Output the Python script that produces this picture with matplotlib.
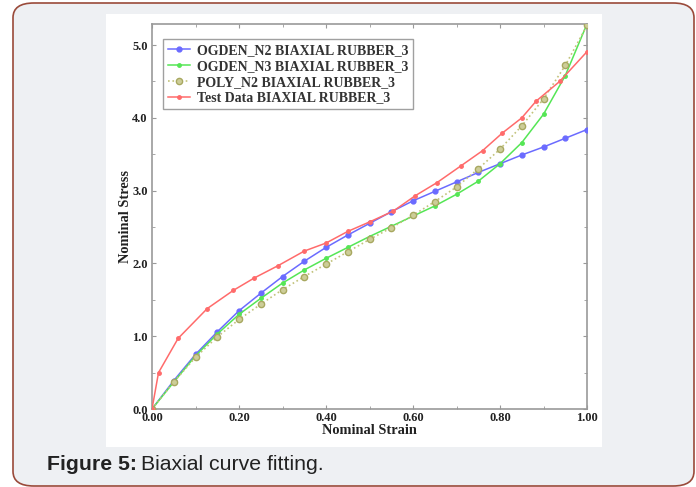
import numpy as np
import matplotlib
matplotlib.use('Agg')
import matplotlib.pyplot as plt
from matplotlib.patches import FancyBboxPatch, Rectangle
from matplotlib.ticker import MultipleLocator, FormatStrFormatter

# --- Data ---
strain = [0.00, 0.05, 0.10, 0.15, 0.20, 0.25, 0.30, 0.35, 0.40, 0.45, 0.50,
          0.55, 0.60, 0.65, 0.70, 0.75, 0.80, 0.85, 0.90, 0.95, 1.00]

ogden_n2 = [0.00, 0.39, 0.75, 1.06, 1.35, 1.59, 1.82, 2.03, 2.22, 2.39, 2.55,
            2.71, 2.86, 2.99, 3.12, 3.25, 3.37, 3.49, 3.60, 3.72, 3.84]

ogden_n3 = [0.00, 0.37, 0.73, 1.03, 1.30, 1.52, 1.73, 1.91, 2.07, 2.22, 2.37,
            2.51, 2.65, 2.79, 2.95, 3.13, 3.37, 3.66, 4.05, 4.58, 5.29]

poly_n2 = [0.00, 0.37, 0.71, 0.99, 1.23, 1.44, 1.64, 1.82, 1.99, 2.16, 2.33,
           2.49, 2.66, 2.85, 3.05, 3.30, 3.57, 3.89, 4.26, 4.72, 5.27]

test_strain = [0.000, 0.015, 0.060, 0.127, 0.187, 0.235, 0.290, 0.350, 0.400,
               0.450, 0.500, 0.555, 0.605, 0.655, 0.710, 0.760, 0.805, 0.850,
               0.883, 0.937, 1.000]
test_stress = [0.00, 0.50, 0.97, 1.38, 1.63, 1.80, 1.97, 2.17, 2.28,
               2.44, 2.57, 2.72, 2.93, 3.11, 3.34, 3.55, 3.79, 4.00,
               4.23, 4.50, 4.91]

labels = ['OGDEN_N2 BIAXIAL RUBBER_3', 'OGDEN_N3 BIAXIAL RUBBER_3',
          'POLY_N2 BIAXIAL RUBBER_3', 'Test Data BIAXIAL RUBBER_3']

W, H = 696, 487
fig = plt.figure(figsize=(W / 100, H / 100), dpi=100)
fig.patch.set_facecolor('white')

# outer rounded card
card = FancyBboxPatch((13 / W, 1 - 486 / H), (694 - 13) / W, (486 - 3) / H,
                      boxstyle='round,pad=0,rounding_size=0.03',
                      transform=fig.transFigure, facecolor='#eef0f3',
                      edgecolor='#9a4a3a', linewidth=1.2, zorder=0)
fig.patches.append(card)
# white panel behind the chart
panel = Rectangle((106 / W, 1 - 447 / H), (602 - 106) / W, (447 - 14) / H,
                  transform=fig.transFigure, facecolor='white',
                  edgecolor='none', zorder=1)
fig.patches.append(panel)

ax = fig.add_axes([152 / W, 1 - 409 / H, (587 - 152) / W, (409 - 24) / H])
ax.set_zorder(3)
ax.set_facecolor('white')

serif = 'Liberation Serif'

ax.plot(strain, ogden_n2, color='#6b6bff', lw=1.1, marker='o', ms=3.5,
        mfc='#6b6bff', mec='#6b6bff', label=labels[0], zorder=3)
ax.plot(strain, ogden_n3, color='#55e655', lw=1.1, marker='o', ms=2.5,
        mfc='#55e655', mec='#55e655', label=labels[1], zorder=3)
ax.plot(strain, poly_n2, color='#c2c27a', lw=1.2, ls=':', marker='o', ms=4.5,
        mfc='#cdcd98', mec='#a8a860', label=labels[2], zorder=3)
ax.plot(test_strain, test_stress, color='#ff6b6b', lw=1.1, marker='o', ms=2.5,
        mfc='#ff6b6b', mec='#ff6b6b', label=labels[3], zorder=4)

ax.set_xlim(0, 1.0)
ax.set_ylim(0, 5.29)
ax.xaxis.set_major_locator(MultipleLocator(0.2))
ax.xaxis.set_minor_locator(MultipleLocator(0.1))
ax.yaxis.set_major_locator(MultipleLocator(1.0))
ax.yaxis.set_minor_locator(MultipleLocator(0.5))
ax.xaxis.set_major_formatter(FormatStrFormatter('%.2f'))
ax.yaxis.set_major_formatter(FormatStrFormatter('%.1f'))
ax.tick_params(which='both', direction='in', top=True, right=True,
               color='#999999', labelsize=9, labelcolor='#222222')
ax.tick_params(axis='x', pad=2)
ax.tick_params(axis='y', pad=3)
ax.tick_params(which='major', length=3)
ax.tick_params(which='minor', length=2)
for lab in ax.get_xticklabels() + ax.get_yticklabels():
    lab.set_fontfamily(serif)
    lab.set_fontweight('bold')
for sp in ax.spines.values():
    sp.set_color('#999999')
    sp.set_linewidth(1.2)

ax.set_xlabel('Nominal Strain', fontfamily=serif, fontweight='bold',
              fontsize=10.4, labelpad=0, color='#222222')
ax.set_ylabel('Nominal Stress', fontfamily=serif, fontweight='bold',
              fontsize=10.4, labelpad=0, color='#222222')

leg = ax.legend(loc='upper left', bbox_to_anchor=(0.025, 0.96),
                borderaxespad=0,
                prop={'family': serif, 'weight': 'bold', 'size': 10},
                frameon=True, fancybox=False, handlelength=1.6,
                borderpad=0.35, labelspacing=0.2, handletextpad=0.5)
leg.get_frame().set_edgecolor('#888888')
leg.get_frame().set_linewidth(1.0)
for t in leg.get_texts():
    t.set_color('#333333')

# caption
cap1 = fig.text(47 / W, 1 - 470 / H, 'Figure 5:', fontfamily='Liberation Sans',
                fontweight='bold', fontsize=15.3, color='#222222', zorder=5)
fig.canvas.draw()
bb = cap1.get_window_extent(fig.canvas.get_renderer())
fig.text(bb.x1 / W + 4 / W, 1 - 470 / H, 'Biaxial curve fitting.',
         fontfamily='Liberation Sans', fontsize=15.3, color='#222222', zorder=5)

fig.savefig('out.png', dpi=100, facecolor=fig.get_facecolor())
